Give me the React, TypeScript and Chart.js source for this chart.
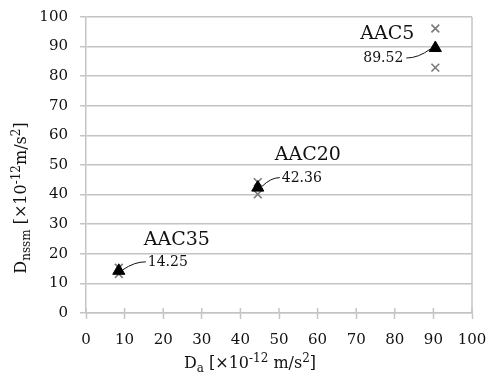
import React, { useEffect, useRef } from "react";
import { Chart, registerables } from "chart.js";

Chart.register(...registerables);

// Data
const sampleNames = ["AAC35", "AAC20", "AAC5"];
const meanDa = [8.5, 44.5, 90.5];
const meanDnssm = [14.25, 42.36, 89.52];
const meanLabels = ["14.25", "42.36", "89.52"];
const measDa = [8.5, 8.5, 44.5, 44.5, 90.5, 90.5];
const measDnssm = [15.3, 13.2, 44.2, 40.1, 96.1, 82.9];
const xTicks = [0, 10, 20, 30, 40, 50, 60, 70, 80, 90, 100];
const yTicks = [0, 10, 20, 30, 40, 50, 60, 70, 80, 90, 100];

const FONT = "'DejaVu Serif', 'Liberation Serif', serif";
const GRID = "#c4c4c4";

type Part = { t: string; k: "n" | "sub" | "sup" };

function drawRich(ctx: CanvasRenderingContext2D, parts: Part[], cx: number, cy: number, size: number) {
  const small = Math.round(size * 0.72);
  const fontOf = (k: string) => `${k === "n" ? size : small}px ${FONT}`;
  let total = 0;
  for (const p of parts) {
    ctx.font = fontOf(p.k);
    total += ctx.measureText(p.t).width;
  }
  let x = cx - total / 2;
  ctx.textAlign = "left";
  ctx.textBaseline = "alphabetic";
  const base = cy + size * 0.36;
  for (const p of parts) {
    ctx.font = fontOf(p.k);
    const dy = p.k === "sub" ? size * 0.28 : p.k === "sup" ? -size * 0.38 : 0;
    ctx.fillText(p.t, x, base + dy);
    x += ctx.measureText(p.t).width;
  }
}

const xTitle: Part[] = [
  { t: "D", k: "n" },
  { t: "a", k: "sub" },
  { t: " [×10", k: "n" },
  { t: "-12", k: "sup" },
  { t: " m/s", k: "n" },
  { t: "2", k: "sup" },
  { t: "]", k: "n" },
];
const yTitle: Part[] = [
  { t: "D", k: "n" },
  { t: "nssm", k: "sub" },
  { t: " [×10", k: "n" },
  { t: "-12", k: "sup" },
  { t: "m/s", k: "n" },
  { t: "2", k: "sup" },
  { t: "]", k: "n" },
];

// annotation layout (pixel offsets from the triangle marker)
const nameOffsets = [
  [58, -31],
  [50, -33],
  [-48, -14],
];
const valueLayout = [
  { dx: 29, dy: -8, align: "left", l0: [27, -9], l1: [4, -1] },
  { dx: 24, dy: -9, align: "left", l0: [22, -10], l1: [4, -1] },
  { dx: -32, dy: 10, align: "right", l0: [-29, 10], l1: [-5, 1] },
];

const decorPlugin = {
  id: "decor",
  afterDraw(chart: any) {
    const ctx: CanvasRenderingContext2D = chart.ctx;
    const xs = chart.scales.x;
    const ys = chart.scales.y;
    const area = chart.chartArea;
    ctx.save();
    // right border
    ctx.strokeStyle = GRID;
    ctx.lineWidth = 1.5;
    ctx.beginPath();
    ctx.moveTo(area.right, area.top);
    ctx.lineTo(area.right, area.bottom);
    ctx.stroke();
    // x ticks crossing upward
    for (const v of xTicks) {
      const px = xs.getPixelForValue(v);
      ctx.beginPath();
      ctx.moveTo(px, area.bottom);
      ctx.lineTo(px, area.bottom - 5);
      ctx.stroke();
    }
    ctx.fillStyle = "#111";
    // titles
    drawRich(ctx, xTitle, 250, 362, 16);
    ctx.save();
    ctx.translate(20, 198);
    ctx.rotate(-Math.PI / 2);
    drawRich(ctx, yTitle, 0, 0, 16);
    ctx.restore();
    // annotations
    for (let i = 0; i < sampleNames.length; i++) {
      const px = xs.getPixelForValue(meanDa[i]);
      const py = ys.getPixelForValue(meanDnssm[i]);
      ctx.font = `19px ${FONT}`;
      ctx.textAlign = "center";
      ctx.textBaseline = "middle";
      ctx.fillText(sampleNames[i], px + nameOffsets[i][0], py + nameOffsets[i][1]);
      const L = valueLayout[i];
      ctx.font = `14px ${FONT}`;
      ctx.textAlign = L.align as CanvasTextAlign;
      ctx.fillText(meanLabels[i], px + L.dx, py + L.dy);
      ctx.strokeStyle = "#111";
      ctx.lineWidth = 1;
      ctx.beginPath();
      const x0 = px + L.l0[0], y0 = py + L.l0[1];
      const x1 = px + L.l1[0], y1 = py + L.l1[1];
      ctx.moveTo(x0, y0);
      const mx = (x0 + x1) / 2;
      ctx.quadraticCurveTo(mx, y0, x1, y1);
      ctx.stroke();
    }
    ctx.restore();
  },
};

export default function App() {
  const ref = useRef<HTMLCanvasElement>(null);
  useEffect(() => {
    if (!ref.current) return;
    const chart = new Chart(ref.current, {
      type: "scatter",
      data: {
        datasets: [
          {
            label: "measured",
            data: measDa.map((x, i) => ({ x, y: measDnssm[i] })),
            pointStyle: "crossRot",
            pointRadius: 5.5,
            borderColor: "#7a7a7a",
            backgroundColor: "#7a7a7a",
            borderWidth: 1.6,
            order: 2,
          },
          {
            label: "mean",
            data: meanDa.map((x, i) => ({ x, y: meanDnssm[i] })),
            pointStyle: "triangle",
            pointRadius: 7,
            borderColor: "#000",
            backgroundColor: "#000",
            borderWidth: 1,
            order: 1,
          },
        ],
      },
      plugins: [decorPlugin],
      options: {
        animation: false,
        responsive: false,
        maintainAspectRatio: false,
        layout: { padding: { top: 17, right: 16, left: 0, bottom: 0 } },
        plugins: { legend: { display: false }, tooltip: { enabled: false } },
        scales: {
          x: {
            type: "linear",
            min: 0,
            max: 100,
            afterBuildTicks: (s: any) => {
              s.ticks = xTicks.map((v) => ({ value: v }));
            },
            afterFit: (s: any) => {
              s.height = 65;
              s.paddingLeft = 0;
              s.paddingRight = 0;
            },
            ticks: { color: "#111", font: { family: FONT, size: 15 }, padding: 12, maxRotation: 0 },
            grid: { drawOnChartArea: false, drawTicks: true, tickLength: 6, tickColor: GRID, tickWidth: 1.5 } as any,
            border: { display: true, color: GRID, width: 1.5 },
          },
          y: {
            type: "linear",
            min: 0,
            max: 100,
            afterBuildTicks: (s: any) => {
              s.ticks = yTicks.map((v) => ({ value: v }));
            },
            afterFit: (s: any) => {
              s.width = 86;
              s.paddingTop = 0;
              s.paddingBottom = 0;
            },
            ticks: { color: "#111", font: { family: FONT, size: 15 }, padding: 12 },
            grid: { color: GRID, lineWidth: 1.5, tickLength: 6 },
            border: { display: true, color: GRID, width: 1.5 },
          },
        },
      },
    });
    return () => chart.destroy();
  }, []);
  return (
    <div style={{ position: "absolute", left: 0, top: 0, width: 488, height: 378, background: "#fff" }}>
      <canvas ref={ref} width={488} height={378} style={{ width: 488, height: 378 }} />
    </div>
  );
}
